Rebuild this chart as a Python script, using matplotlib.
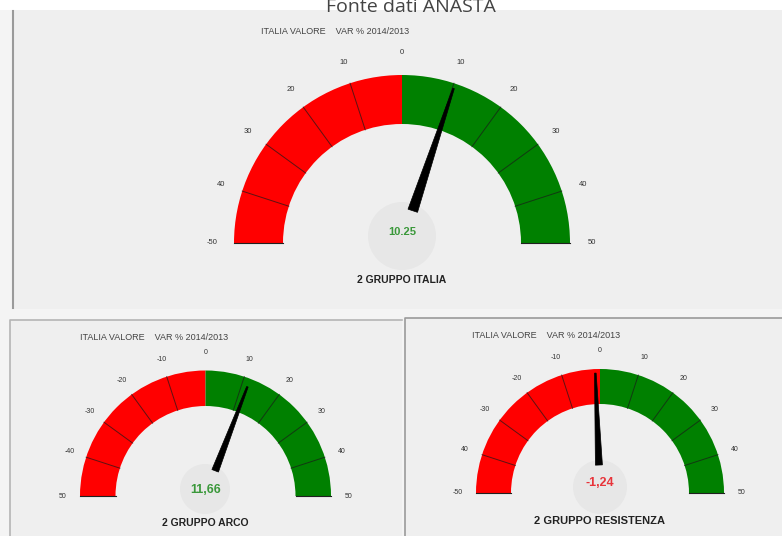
import numpy as np
import matplotlib
matplotlib.use("Agg")
import matplotlib.pyplot as plt
from matplotlib.patches import Wedge, Rectangle, Circle, Polygon

# dati dei tre indicatori
gauge_names = ["2 GRUPPO ITALIA", "2 GRUPPO ARCO", "2 GRUPPO RESISTENZA"]
gauge_values = [10.25, 11.66, -1.24]
value_labels = ["10.25", "11,66", "-1,24"]
gauge_title = "ITALIA VALORE    VAR % 2014/2013"
tick_values = [-50, -40, -30, -20, -10, 0, 10, 20, 30, 40, 50]
tick_labels = [
    ["-50", "40", "30", "20", "10", "0", "10", "20", "30", "40", "50"],
    ["50", "-40", "-30", "-20", "-10", "0", "10", "20", "30", "40", "50"],
    ["-50", "40", "-30", "-20", "-10", "0", "10", "20", "30", "40", "50"],
]

# layout in pixel (asse y verso l'alto)
H = 536
layout = [
    dict(cx=402, cy=H - 243, R=168, rin=119, rl=190, n0=34, n1=163, nw=10,
         circ=(402, H - 236, 34), val_y=H - 232, name_y=H - 280, title=(261, H - 31),
         fs_val=8, fs_name=7.5, fs_tick=5.5),
    dict(cx=205.5, cy=H - 496, R=125.5, rin=90, rl=143, n0=27, n1=117, nw=7,
         circ=(205, H - 489, 25), val_y=H - 490, name_y=H - 523, title=(80, H - 338),
         fs_val=9, fs_name=7.5, fs_tick=5),
    dict(cx=600, cy=H - 493, R=124, rin=89, rl=142, n0=28, n1=120, nw=7,
         circ=(600, H - 487, 27), val_y=H - 483, name_y=H - 521, title=(472, H - 335),
         fs_val=9, fs_name=8, fs_tick=5),
]

vmin, vmax = -50, 50


def ang(v):
    return np.radians(180 - (v - vmin) / (vmax - vmin) * 180)


fig = plt.figure(figsize=(7.82, 5.36), dpi=100, facecolor="white")
ax = fig.add_axes([0, 0, 1, 1])
ax.set_xlim(0, 782)
ax.set_ylim(0, H)
ax.axis("off")

# pannelli
ax.add_patch(Rectangle((0, 0), 782, H - 10, facecolor="#f4f4f4", edgecolor="none", zorder=0))
ax.add_patch(Rectangle((13, H - 309), 769, 299, facecolor="#efefef", edgecolor="none", zorder=0))
ax.plot([13, 13], [H - 308, H - 11], color="#9a9a9a", lw=1.5, zorder=1)
ax.add_patch(Rectangle((10, 0), 392, H - 320, facecolor="#efefef", edgecolor="none", zorder=0))
ax.plot([10, 10, 402], [0, H - 320, H - 320], color="#b5b5b5", lw=1.2, zorder=1)
ax.add_patch(Rectangle((405, 0), 377, H - 318, facecolor="#efefef", edgecolor="none", zorder=0))
ax.plot([405, 405, 782], [0, H - 318, H - 318], color="#9a9a9a", lw=1.2, zorder=1)

ax.text(411, H - 12, "Fonte dati ANASTA", ha="center", va="baseline",
        fontsize=14, color="#444444", family="Open Sans", zorder=5)

for i, g in enumerate(layout):
    cx, cy, R, rin = g["cx"], g["cy"], g["R"], g["rin"]
    # settori rosso / verde
    ax.add_patch(Wedge((cx, cy), R, 90, 180, width=R - rin, facecolor="#ff0000", edgecolor="none", zorder=2))
    ax.add_patch(Wedge((cx, cy), R, 0, 90, width=R - rin, facecolor="#008000", edgecolor="none", zorder=2))
    for v in tick_values[1:-1]:
        if v == 0:
            continue
        a = ang(v)
        ax.plot([cx + rin * np.cos(a), cx + R * np.cos(a)],
                [cy + rin * np.sin(a), cy + R * np.sin(a)],
                color="#1a1a1a", lw=0.7, alpha=0.7, zorder=3)
    # base del quadrante
    ax.plot([cx - R, cx - rin], [cy, cy], color="#202020", lw=0.8, zorder=3)
    ax.plot([cx + rin, cx + R], [cy, cy], color="#202020", lw=0.8, zorder=3)
    # etichette dei tick
    for v, lab in zip(tick_values, tick_labels[i]):
        a = ang(v)
        ax.text(cx + g["rl"] * np.cos(a), cy + g["rl"] * np.sin(a), lab,
                ha="center", va="center", fontsize=g["fs_tick"], color="#333333",
                family="Liberation Sans", zorder=4)
    # cerchio del valore
    ccx, ccy, cr = g["circ"]
    ax.add_patch(Circle((ccx, ccy), cr, facecolor="#e7e7e7", edgecolor="none", zorder=2))
    # lancetta
    val = gauge_values[i]
    a = ang(val)
    d = np.array([np.cos(a), np.sin(a)])
    p = np.array([-np.sin(a), np.cos(a)])
    c = np.array([cx, cy])
    b = c + g["n0"] * d
    t = c + g["n1"] * d
    pts = [b + p * g["nw"] / 2, t + p * 0.8, t - p * 0.8, b - p * g["nw"] / 2]
    ax.add_patch(Polygon(pts, closed=True, facecolor="black", edgecolor="black", lw=0.5, zorder=6))
    col = "#3a983a" if val >= 0 else "#e8343a"
    ax.text(cx, g["val_y"], value_labels[i], ha="center", va="center",
            fontsize=g["fs_val"], fontweight="bold", color=col, family="Liberation Sans", zorder=7)
    ax.text(cx, g["name_y"], gauge_names[i], ha="center", va="center",
            fontsize=g["fs_name"], fontweight="bold", color="#222222", family="Liberation Sans", zorder=7)
    tx, ty = g["title"]
    ax.text(tx, ty, gauge_title, ha="left", va="center", fontsize=6.5,
            color="#444444", family="Liberation Sans", zorder=7)

fig.savefig("out.png", dpi=100, facecolor=fig.get_facecolor())
